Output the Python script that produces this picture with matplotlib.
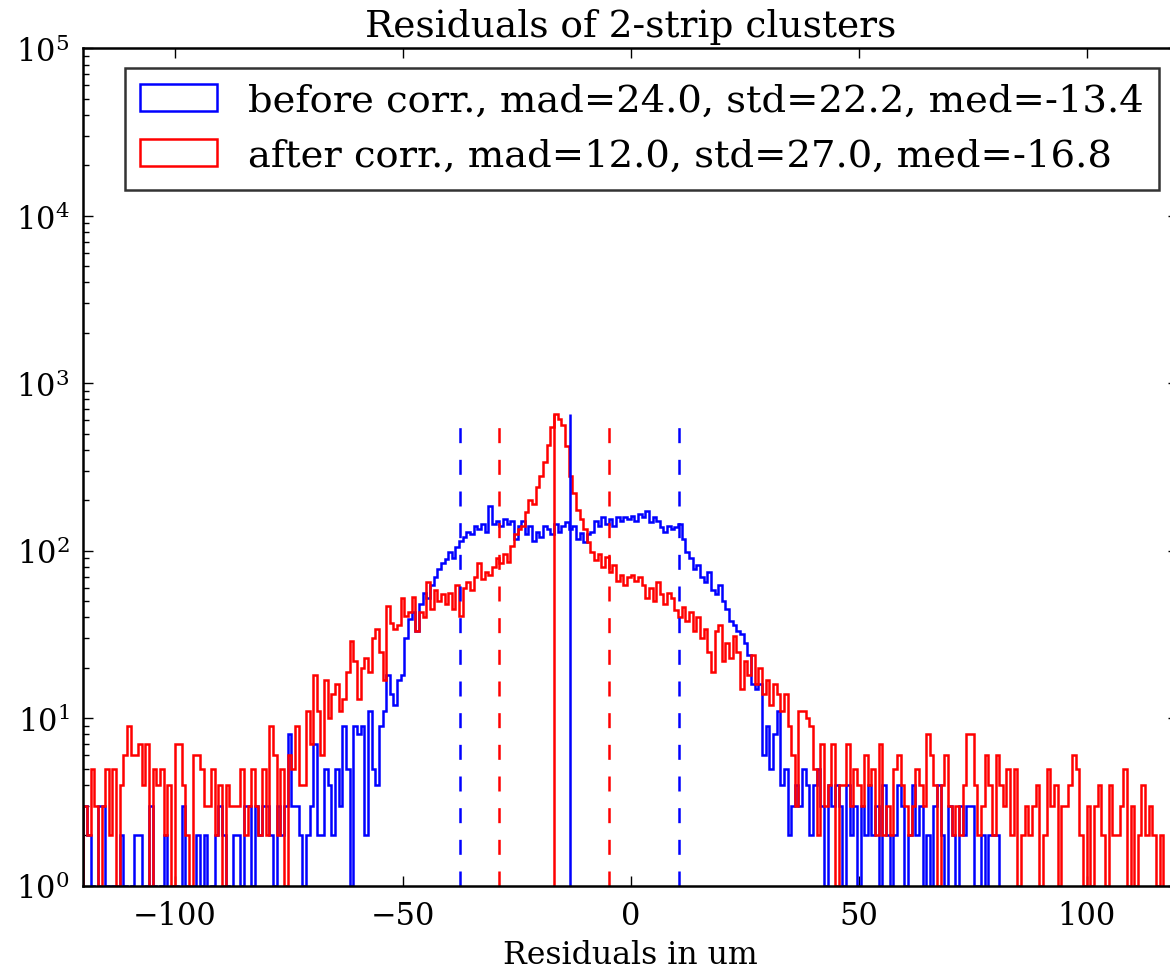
import numpy as np
import matplotlib
matplotlib.use('Agg')
import matplotlib.pyplot as plt

# Histogram counts per bin (bin width 0.8 um, starting at -120 um)
bin_start = -120.0
bin_width = 0.8

before_counts = [
    3, 2, 1, 0, 3, 3, 1, 0, 1, 0,
    2, 1, 0, 1, 2, 2, 0, 1, 3, 1,
    0, 1, 2, 0, 1, 1, 0, 3, 1, 0,
    1, 2, 1, 2, 0, 1, 2, 3, 2, 1,
    0, 2, 2, 1, 3, 3, 1, 3, 2, 3,
    3, 2, 1, 3, 2, 3, 8, 3, 3, 2,
    1, 2, 3, 7, 2, 2, 5, 4, 2, 5,
    3, 9, 5, 1, 9, 8, 9, 2, 11, 5,
    4, 9, 11, 18, 14, 12, 17, 18, 30, 39,
    43, 33, 48, 56, 52, 62, 70, 78, 85, 89,
    98, 90, 105, 115, 120, 130, 125, 140, 135, 145,
    130, 184, 145, 150, 140, 155, 145, 150, 117, 140,
    150, 125, 140, 115, 130, 120, 140, 135, 125, 145,
    130, 140, 148, 135, 140, 118, 128, 112, 125, 130,
    150, 140, 160, 145, 155, 140, 158, 150, 160, 155,
    162, 150, 165, 158, 172, 148, 160, 150, 138, 130,
    140, 135, 138, 145, 118, 98, 90, 78, 82, 70,
    65, 75, 58, 55, 62, 50, 45, 38, 36, 33,
    32, 28, 24, 16, 15, 16, 6, 9, 5, 8,
    11, 4, 5, 2, 3, 4, 3, 5, 4, 2,
    4, 5, 3, 1, 4, 3, 4, 3, 1, 4,
    2, 3, 1, 3, 2, 4, 2, 3, 1, 4,
    2, 1, 2, 4, 3, 1, 2, 4, 2, 3,
    1, 2, 1, 3, 4, 2, 1, 3, 2, 1,
    3, 2, 3, 3, 1, 1, 2, 0, 2, 2,
    2, 0, 0, 0, 0, 0, 0, 0, 0, 0,
    0, 0, 0, 0, 0, 0, 0, 0, 0, 0,
    0, 0, 0, 0, 0, 0, 0, 0, 0, 0,
    0, 0, 0, 0, 0, 0, 0, 0, 0, 0,
    0, 0, 0, 0, 0, 0, 0,
]

after_counts = [
    3, 2, 5, 3, 1, 3, 5, 2, 5, 1,
    4, 6, 9, 6, 6, 7, 4, 7, 1, 5,
    4, 5, 2, 4, 1, 7, 7, 4, 2, 1,
    6, 6, 5, 3, 3, 5, 2, 4, 1, 4,
    3, 3, 3, 5, 2, 3, 5, 3, 2, 5,
    2, 9, 6, 2, 5, 1, 6, 5, 9, 4,
    4, 11, 7, 18, 11, 6, 17, 10, 14, 16,
    11, 13, 19, 29, 22, 13, 20, 23, 19, 30,
    34, 25, 17, 47, 37, 34, 36, 52, 41, 43,
    53, 33, 43, 40, 65, 45, 58, 50, 55, 48,
    56, 45, 62, 41, 60, 65, 58, 70, 85, 68,
    75, 72, 80, 90, 84, 95, 86, 107, 125, 135,
    140, 170, 200, 190, 240, 280, 340, 430, 550, 655,
    610, 560, 420, 280, 220, 175, 155, 135, 112, 98,
    88, 95, 80, 92, 75, 82, 66, 72, 62, 70,
    72, 66, 70, 62, 52, 60, 50, 65, 55, 48,
    56, 52, 44, 40, 46, 38, 43, 33, 40, 30,
    34, 25, 19, 33, 36, 22, 28, 23, 31, 25,
    15, 22, 18, 24, 16, 20, 14, 17, 12, 16,
    14, 11, 14, 9, 6, 3, 11, 11, 10, 9,
    5, 2, 7, 3, 4, 7, 1, 4, 4, 7,
    3, 5, 4, 3, 6, 4, 5, 2, 7, 2,
    3, 2, 5, 6, 4, 3, 2, 3, 5, 4,
    3, 8, 6, 4, 1, 4, 6, 3, 2, 3,
    2, 4, 8, 8, 4, 2, 3, 6, 4, 2,
    6, 4, 3, 5, 2, 5, 1, 2, 3, 2,
    3, 4, 1, 2, 5, 3, 4, 1, 3, 3,
    4, 6, 5, 2, 1, 3, 1, 3, 4, 2,
    1, 4, 2, 2, 3, 5, 1, 3, 1, 2,
    4, 2, 3, 2, 1, 2, 0,
]

# statistics shown in the legend
before_mad, before_std, before_med = 24.0, 22.2, -13.4
after_mad, after_std, after_med = 12.0, 27.0, -16.8

plt.rcParams['font.family'] = 'DejaVu Serif'
plt.rcParams['mathtext.fontset'] = 'dejavuserif'
plt.rcParams['lines.scale_dashes'] = False

n_bins = len(after_counts)
edges = bin_start + bin_width * np.arange(n_bins + 1)
centers = edges[:-1] + bin_width / 2

fig = plt.figure(figsize=(11.7, 9.7), dpi=100)
ax = fig.add_axes([0.0712, 0.0859, 0.9356, 0.8633])

lw = 1.8
ax.hist(centers, bins=edges, weights=before_counts, histtype='step', color='#0000ff',
        linewidth=lw, log=True,
        label=f'before corr., mad={before_mad:.1f}, std={before_std:.1f}, med={before_med:.1f}')
ax.hist(centers, bins=edges, weights=after_counts, histtype='step', color='#ff0000',
        linewidth=lw, log=True,
        label=f'after corr., mad={after_mad:.1f}, std={after_std:.1f}, med={after_med:.1f}')

# median (solid) and median +- mad (dashed)
top = max(max(after_counts), max(before_counts))
dash = (0, (10.8, 12.0))
for med, mad, col in [(before_med, before_mad, '#0000ff'), (after_med, after_mad, '#ff0000')]:
    ax.vlines(med, 1, top, colors=col, linewidth=lw)
    ax.vlines([med - mad, med + mad], 1, 0.9 * top, colors=col, linewidth=lw, linestyles=[dash])

ax.set_xlim(-120, 120)
ax.set_ylim(1, 1e5)
ax.set_xticks([-100, -50, 0, 50, 100])

ax.tick_params(which='both', direction='in', top=True, right=True, labelsize=22, pad=10)
ax.tick_params(which='major', length=7.2, width=1.0)
ax.tick_params(which='minor', length=4.3, width=1.0)
for s in ax.spines.values():
    s.set_linewidth(1.8)

ax.set_title('Residuals of 2-strip clusters', fontsize=27, pad=8.6)
ax.set_xlabel('Residuals in um', fontsize=22.7, labelpad=6)

leg = ax.legend(loc='upper right', fontsize=27.7, fancybox=False, handlelength=2.0,
                handletextpad=0.8, borderpad=0.4, labelspacing=0.5, borderaxespad=0.5)
leg.get_frame().set_edgecolor('black')
leg.get_frame().set_linewidth(1.8)

fig.savefig('out.png', dpi=100, facecolor='white')
